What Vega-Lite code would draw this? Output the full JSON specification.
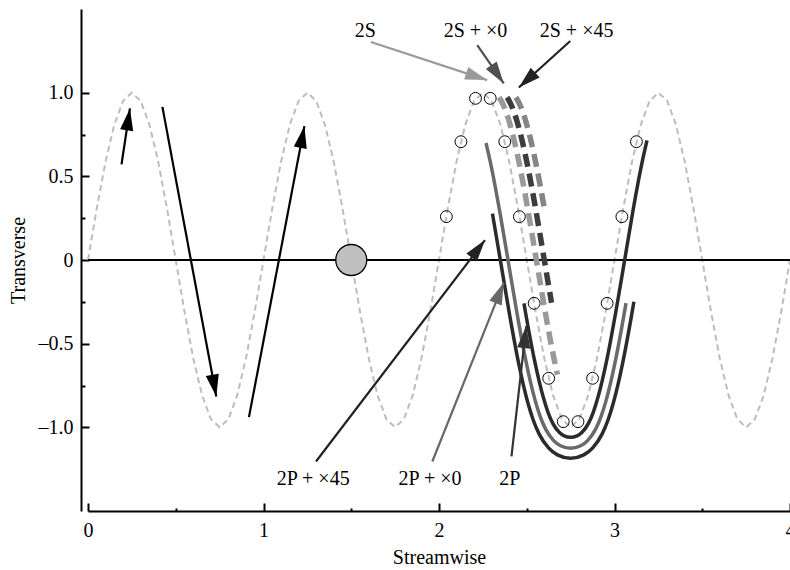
{
  "$schema": "https://vega.github.io/schema/vega-lite/v6.json",
  "width": 702,
  "height": 502,
  "autosize": {"type": "none"},
  "padding": {"left": 88, "right": 0, "top": 9, "bottom": 59},
  "background": "white",
  "config": {"view": {"stroke": null}, "font": "Liberation Serif"},
  "datasets": {
    "wave": [
      {"x": 0.00, "y": 0}, {"x": 0.05, "y": 0.309}, {"x": 0.10, "y": 0.588}, {"x": 0.15, "y": 0.809}, {"x": 0.20, "y": 0.951},
      {"x": 0.25, "y": 1}, {"x": 0.30, "y": 0.951}, {"x": 0.35, "y": 0.809}, {"x": 0.40, "y": 0.588}, {"x": 0.45, "y": 0.309},
      {"x": 0.50, "y": 0}, {"x": 0.55, "y": -0.309}, {"x": 0.60, "y": -0.588}, {"x": 0.65, "y": -0.809}, {"x": 0.70, "y": -0.951},
      {"x": 0.75, "y": -1}, {"x": 0.80, "y": -0.951}, {"x": 0.85, "y": -0.809}, {"x": 0.90, "y": -0.588}, {"x": 0.95, "y": -0.309},
      {"x": 1.00, "y": 0}, {"x": 1.05, "y": 0.309}, {"x": 1.10, "y": 0.588}, {"x": 1.15, "y": 0.809}, {"x": 1.20, "y": 0.951},
      {"x": 1.25, "y": 1}, {"x": 1.30, "y": 0.951}, {"x": 1.35, "y": 0.809}, {"x": 1.40, "y": 0.588}, {"x": 1.45, "y": 0.309},
      {"x": 1.50, "y": 0}, {"x": 1.55, "y": -0.309}, {"x": 1.60, "y": -0.588}, {"x": 1.65, "y": -0.809}, {"x": 1.70, "y": -0.951},
      {"x": 1.75, "y": -1}, {"x": 1.80, "y": -0.951}, {"x": 1.85, "y": -0.809}, {"x": 1.90, "y": -0.588}, {"x": 1.95, "y": -0.309},
      {"x": 2.00, "y": 0}, {"x": 2.05, "y": 0.309}, {"x": 2.10, "y": 0.588}, {"x": 2.15, "y": 0.809}, {"x": 2.20, "y": 0.951},
      {"x": 2.25, "y": 1}, {"x": 2.30, "y": 0.951}, {"x": 2.35, "y": 0.809}, {"x": 2.40, "y": 0.588}, {"x": 2.45, "y": 0.309},
      {"x": 2.50, "y": 0}, {"x": 2.55, "y": -0.309}, {"x": 2.60, "y": -0.588}, {"x": 2.65, "y": -0.809}, {"x": 2.70, "y": -0.951},
      {"x": 2.75, "y": -1}, {"x": 2.80, "y": -0.951}, {"x": 2.85, "y": -0.809}, {"x": 2.90, "y": -0.588}, {"x": 2.95, "y": -0.309},
      {"x": 3.00, "y": 0}, {"x": 3.05, "y": 0.309}, {"x": 3.10, "y": 0.588}, {"x": 3.15, "y": 0.809}, {"x": 3.20, "y": 0.951},
      {"x": 3.25, "y": 1}, {"x": 3.30, "y": 0.951}, {"x": 3.35, "y": 0.809}, {"x": 3.40, "y": 0.588}, {"x": 3.45, "y": 0.309},
      {"x": 3.50, "y": 0}, {"x": 3.55, "y": -0.309}, {"x": 3.60, "y": -0.588}, {"x": 3.65, "y": -0.809}, {"x": 3.70, "y": -0.951},
      {"x": 3.75, "y": -1}, {"x": 3.80, "y": -0.951}, {"x": 3.85, "y": -0.809}, {"x": 3.90, "y": -0.588}, {"x": 3.95, "y": -0.309},
      {"x": 4.00, "y": 0}
    ],
    "zero": [{"x": 0, "y": 0}, {"x": 4, "y": 0}],
    "body": [{"x": 1.5, "y": 0}],
    "curves": [
      {"curve": "2S", "x": 2.3425, "y": 0.972}, {"curve": "2S", "x": 2.355, "y": 0.951}, {"curve": "2S", "x": 2.38, "y": 0.891},
      {"curve": "2S", "x": 2.405, "y": 0.809}, {"curve": "2S", "x": 2.43, "y": 0.707}, {"curve": "2S", "x": 2.455, "y": 0.588},
      {"curve": "2S", "x": 2.48, "y": 0.454}, {"curve": "2S", "x": 2.505, "y": 0.309}, {"curve": "2S", "x": 2.53, "y": 0.156},
      {"curve": "2S", "x": 2.555, "y": 0}, {"curve": "2S", "x": 2.58, "y": -0.156}, {"curve": "2S", "x": 2.605, "y": -0.309},
      {"curve": "2S", "x": 2.63, "y": -0.454}, {"curve": "2S", "x": 2.655, "y": -0.588}, {"curve": "2S", "x": 2.675, "y": -0.685},
      {"curve": "2S+x0", "x": 2.3875, "y": 0.972}, {"curve": "2S+x0", "x": 2.4, "y": 0.951}, {"curve": "2S+x0", "x": 2.425, "y": 0.891},
      {"curve": "2S+x0", "x": 2.45, "y": 0.809}, {"curve": "2S+x0", "x": 2.475, "y": 0.707}, {"curve": "2S+x0", "x": 2.5, "y": 0.588},
      {"curve": "2S+x0", "x": 2.525, "y": 0.454}, {"curve": "2S+x0", "x": 2.55, "y": 0.309}, {"curve": "2S+x0", "x": 2.575, "y": 0.156},
      {"curve": "2S+x0", "x": 2.6, "y": 0}, {"curve": "2S+x0", "x": 2.625, "y": -0.156}, {"curve": "2S+x0", "x": 2.641, "y": -0.255},
      {"curve": "2S+x45", "x": 2.4375, "y": 0.972}, {"curve": "2S+x45", "x": 2.45, "y": 0.951}, {"curve": "2S+x45", "x": 2.475, "y": 0.891},
      {"curve": "2S+x45", "x": 2.5, "y": 0.809}, {"curve": "2S+x45", "x": 2.525, "y": 0.707}, {"curve": "2S+x45", "x": 2.55, "y": 0.588},
      {"curve": "2S+x45", "x": 2.575, "y": 0.454}, {"curve": "2S+x45", "x": 2.6, "y": 0.309},
      {"curve": "2P", "x": 2.4841, "y": -0.2591}, {"curve": "2P", "x": 2.494, "y": -0.3194}, {"curve": "2P", "x": 2.5443, "y": -0.6},
      {"curve": "2P", "x": 2.5699, "y": -0.7206}, {"curve": "2P", "x": 2.5955, "y": -0.8251}, {"curve": "2P", "x": 2.6216, "y": -0.9116},
      {"curve": "2P", "x": 2.65, "y": -0.9797}, {"curve": "2P", "x": 2.6864, "y": -1.031}, {"curve": "2P", "x": 2.7134, "y": -1.0509},
      {"curve": "2P", "x": 2.75, "y": -1.0597}, {"curve": "2P", "x": 2.7866, "y": -1.0509}, {"curve": "2P", "x": 2.8136, "y": -1.031},
      {"curve": "2P", "x": 2.85, "y": -0.9797}, {"curve": "2P", "x": 2.8784, "y": -0.9116}, {"curve": "2P", "x": 2.9045, "y": -0.8251},
      {"curve": "2P", "x": 2.9301, "y": -0.7206}, {"curve": "2P", "x": 2.9557, "y": -0.6}, {"curve": "2P", "x": 3.006, "y": -0.3194},
      {"curve": "2P", "x": 3.0563, "y": -0.0099}, {"curve": "2P", "x": 3.106, "y": 0.2991}, {"curve": "2P", "x": 3.1557, "y": 0.5761},
      {"curve": "2P", "x": 3.1852, "y": 0.7146},
      {"curve": "2P+x0", "x": 2.268, "y": 0.6992}, {"curve": "2P+x0", "x": 2.2971, "y": 0.5627}, {"curve": "2P+x0", "x": 2.3465, "y": 0.2876},
      {"curve": "2P+x0", "x": 2.3964, "y": -0.0207}, {"curve": "2P+x0", "x": 2.4465, "y": -0.3309}, {"curve": "2P+x0", "x": 2.4971, "y": -0.6134},
      {"curve": "2P+x0", "x": 2.5227, "y": -0.7357}, {"curve": "2P+x0", "x": 2.5489, "y": -0.8433}, {"curve": "2P+x0", "x": 2.5764, "y": -0.9341},
      {"curve": "2P+x0", "x": 2.6076, "y": -1.0107}, {"curve": "2P+x0", "x": 2.6532, "y": -1.0792}, {"curve": "2P+x0", "x": 2.6928, "y": -1.1104},
      {"curve": "2P+x0", "x": 2.75, "y": -1.1254}, {"curve": "2P+x0", "x": 2.8072, "y": -1.1104}, {"curve": "2P+x0", "x": 2.8468, "y": -1.0792},
      {"curve": "2P+x0", "x": 2.8924, "y": -1.0107}, {"curve": "2P+x0", "x": 2.9236, "y": -0.9341}, {"curve": "2P+x0", "x": 2.9511, "y": -0.8433},
      {"curve": "2P+x0", "x": 2.9773, "y": -0.7357}, {"curve": "2P+x0", "x": 3.0029, "y": -0.6134}, {"curve": "2P+x0", "x": 3.0535, "y": -0.3309},
      {"curve": "2P+x0", "x": 3.0656, "y": -0.2577},
      {"curve": "2P+x45", "x": 2.3045, "y": 0.2773}, {"curve": "2P+x45", "x": 2.3543, "y": -0.0306}, {"curve": "2P+x45", "x": 2.4045, "y": -0.3413},
      {"curve": "2P+x45", "x": 2.4554, "y": -0.6254}, {"curve": "2P+x45", "x": 2.4813, "y": -0.7494}, {"curve": "2P+x45", "x": 2.5079, "y": -0.8596},
      {"curve": "2P+x45", "x": 2.5364, "y": -0.9548}, {"curve": "2P+x45", "x": 2.5702, "y": -1.0392}, {"curve": "2P+x45", "x": 2.6241, "y": -1.1228},
      {"curve": "2P+x45", "x": 2.6748, "y": -1.1644}, {"curve": "2P+x45", "x": 2.75, "y": -1.1851}, {"curve": "2P+x45", "x": 2.8252, "y": -1.1644},
      {"curve": "2P+x45", "x": 2.8759, "y": -1.1228}, {"curve": "2P+x45", "x": 2.9298, "y": -1.0392}, {"curve": "2P+x45", "x": 2.9636, "y": -0.9548},
      {"curve": "2P+x45", "x": 2.9921, "y": -0.8596}, {"curve": "2P+x45", "x": 3.0188, "y": -0.7494}, {"curve": "2P+x45", "x": 3.0446, "y": -0.6254},
      {"curve": "2P+x45", "x": 3.0955, "y": -0.3413}, {"curve": "2P+x45", "x": 3.1106, "y": -0.2492}
    ],
    "samples": [
      {"x": 2.042, "y": 0.259}, {"x": 2.125, "y": 0.707}, {"x": 2.208, "y": 0.966}, {"x": 2.292, "y": 0.966},
      {"x": 2.375, "y": 0.707}, {"x": 2.458, "y": 0.259}, {"x": 2.542, "y": -0.259}, {"x": 2.625, "y": -0.707},
      {"x": 2.708, "y": -0.966}, {"x": 2.792, "y": -0.966}, {"x": 2.875, "y": -0.707}, {"x": 2.958, "y": -0.259},
      {"x": 3.042, "y": 0.259}, {"x": 3.125, "y": 0.707}
    ],
    "arrows": [
      {"name": "f1", "x": 0.239, "y": 0.906, "x2": 0.191, "y2": 0.571},
      {"name": "f2", "x": 0.731, "y": -0.816, "x2": 0.424, "y2": 0.915},
      {"name": "f3", "x": 1.233, "y": 0.8, "x2": 0.917, "y2": -0.939},
      {"name": "2S", "x": 2.274, "y": 1.075, "x2": 1.612, "y2": 1.303},
      {"name": "2S + ×0", "x": 2.369, "y": 1.055, "x2": 2.218, "y2": 1.284},
      {"name": "2S + ×45", "x": 2.455, "y": 1.031, "x2": 2.748, "y2": 1.309},
      {"name": "2P + ×45", "x": 2.262, "y": 0.119, "x2": 1.299, "y2": -1.204},
      {"name": "2P + ×0", "x": 2.369, "y": -0.135, "x2": 1.962, "y2": -1.204},
      {"name": "2P", "x": 2.497, "y": -0.395, "x2": 2.413, "y2": -1.174}
    ],
    "labels": [
      {"label": "2S", "x": 1.58, "y": 1.334},
      {"label": "2S + ×0", "x": 2.208, "y": 1.334},
      {"label": "2S + ×45", "x": 2.784, "y": 1.334},
      {"label": "2P + ×45", "x": 1.283, "y": -1.343},
      {"label": "2P + ×0", "x": 1.949, "y": -1.343},
      {"label": "2P", "x": 2.403, "y": -1.343}
    ]
  },
  "encoding": {
    "x": {
      "field": "x", "type": "quantitative",
      "scale": {"domain": [0, 4], "nice": false, "zero": false},
      "axis": {
        "title": "Streamwise",
        "values": [0, 0.5, 1, 1.5, 2, 2.5, 3, 3.5, 4],
        "labelExpr": "datum.value % 1 === 0 ? format(datum.value, 'd') : ''",
        "tickSize": {"condition": {"test": "datum.value % 1 !== 0", "value": -3}, "value": -8},
        "tickWidth": 2, "tickColor": "black",
        "domainColor": "black", "domainWidth": 2,
        "labelFont": "Liberation Serif", "labelFontSize": 20, "labelColor": "black", "labelPadding": 17,
        "labelFlush": false, "labelOverlap": false, "labelBound": false,
        "titleFont": "Liberation Serif", "titleFontSize": 20, "titleFontWeight": "normal", "titleColor": "black", "titlePadding": 2,
        "grid": false
      }
    },
    "y": {
      "field": "y", "type": "quantitative",
      "scale": {"domain": [-1.5, 1.5], "nice": false, "zero": false},
      "axis": {
        "title": "Transverse",
        "offset": 7,
        "values": [-1, -0.75, -0.5, -0.25, 0, 0.25, 0.5, 0.75, 1],
        "labelExpr": "datum.value === 0 ? '0' : (datum.value % 0.5 !== 0 ? '' : (datum.value < 0 ? '–' : '') + format(abs(datum.value), '.1f'))",
        "tickSize": {"condition": {"test": "datum.value % 0.5 !== 0", "value": -4}, "value": -8},
        "tickWidth": 2, "tickColor": "black",
        "domainColor": "black", "domainWidth": 2,
        "labelFont": "Liberation Serif", "labelFontSize": 20, "labelColor": "black", "labelPadding": 16,
        "labelFlush": false, "labelOverlap": false, "labelBound": false,
        "titleFont": "Liberation Serif", "titleFontSize": 20, "titleFontWeight": "normal", "titleColor": "black", "titlePadding": 10,
        "grid": false
      }
    }
  },
  "layer": [
    {
      "data": {"name": "wave"},
      "mark": {"type": "line", "color": "#bdbdbd", "strokeWidth": 2, "strokeDash": [6, 4]}
    },
    {
      "data": {"name": "zero"},
      "mark": {"type": "line", "color": "black", "strokeWidth": 2}
    },
    {
      "data": {"name": "body"},
      "mark": {"type": "point", "shape": "circle", "filled": true, "fill": "#c0c0c0", "stroke": "black", "strokeWidth": 1.3, "size": 960, "opacity": 1}
    },
    {
      "data": {"name": "curves"},
      "transform": [{"filter": "datum.curve === '2S'"}],
      "mark": {"type": "line", "color": "#999999", "strokeWidth": 5.5, "strokeDash": [13, 7], "strokeCap": "butt", "interpolate": "monotone"}
    },
    {
      "data": {"name": "curves"},
      "transform": [{"filter": "datum.curve === '2S+x0'"}],
      "mark": {"type": "line", "color": "#3d3d3d", "strokeWidth": 5.5, "strokeDash": [13, 7], "strokeCap": "butt", "interpolate": "monotone"}
    },
    {
      "data": {"name": "curves"},
      "transform": [{"filter": "datum.curve === '2S+x45'"}],
      "mark": {"type": "line", "color": "#858585", "strokeWidth": 5.5, "strokeDash": [13, 7], "strokeCap": "butt", "interpolate": "monotone"}
    },
    {
      "data": {"name": "curves"},
      "transform": [{"filter": "datum.curve === '2P'"}],
      "mark": {"type": "line", "color": "#2b2b2b", "strokeWidth": 3.5, "interpolate": "monotone"}
    },
    {
      "data": {"name": "curves"},
      "transform": [{"filter": "datum.curve === '2P+x0'"}],
      "mark": {"type": "line", "color": "#6a6a6a", "strokeWidth": 3.5, "interpolate": "monotone"}
    },
    {
      "data": {"name": "curves"},
      "transform": [{"filter": "datum.curve === '2P+x45'"}],
      "mark": {"type": "line", "color": "#2b2b2b", "strokeWidth": 3.5, "interpolate": "monotone"}
    },
    {
      "data": {"name": "samples"},
      "mark": {"type": "point", "shape": "circle", "filled": false, "stroke": "black", "strokeWidth": 1, "size": 140, "opacity": 1}
    },
    {
      "data": {"name": "arrows"},
      "mark": {"type": "rule", "strokeWidth": 2.2, "strokeCap": "butt"},
      "encoding": {
        "x2": {"field": "x2"},
        "y2": {"field": "y2"},
        "color": {
          "field": "name", "type": "nominal", "legend": null,
          "scale": {
            "domain": ["f1", "f2", "f3", "2S", "2S + ×0", "2S + ×45", "2P + ×45", "2P + ×0", "2P"],
            "range": ["#000000", "#000000", "#000000", "#9a9a9a", "#505050", "#222222", "#222222", "#686868", "#333333"]
          }
        }
      }
    },
    {
      "data": {"name": "arrows"},
      "transform": [
        {"calculate": "atan2((datum.x - datum.x2) * 175.5, (datum.y - datum.y2) * 167.3) * 180 / PI", "as": "angle"}
      ],
      "mark": {"type": "point", "shape": "M0,0L-0.6,2L0.6,2Z", "filled": true, "size": 484, "opacity": 1, "strokeWidth": 0},
      "encoding": {
        "angle": {"field": "angle", "type": "quantitative", "scale": null},
        "color": {"field": "name", "type": "nominal", "legend": null}
      }
    },
    {
      "data": {"name": "labels"},
      "mark": {"type": "text", "font": "Liberation Serif", "fontSize": 20, "align": "center", "baseline": "alphabetic", "color": "black"},
      "encoding": {"text": {"field": "label"}}
    }
  ]
}
